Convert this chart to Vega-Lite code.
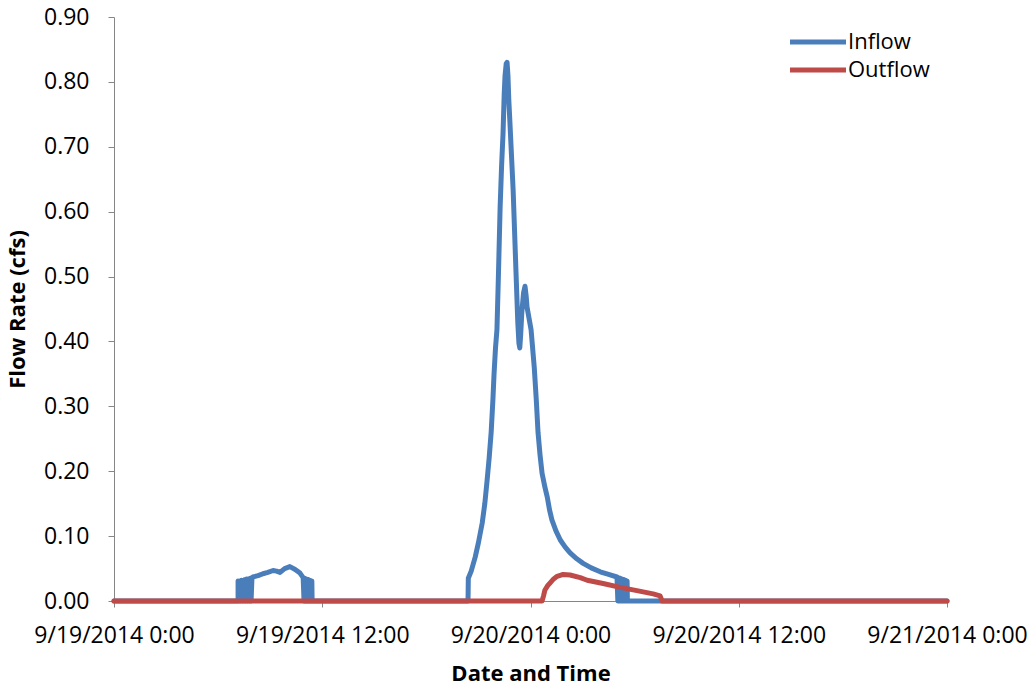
{
  "$schema": "https://vega.github.io/schema/vega-lite/v6.json",
  "width": 833,
  "height": 584,
  "autosize": {"type": "none"},
  "padding": {"left": 114, "top": 17, "right": 87, "bottom": 86},
  "background": "white",
  "config": {
    "view": {"stroke": null},
    "font": "Open Sans",
    "axis": {
      "grid": false,
      "domainColor": "#868686",
      "tickColor": "#868686",
      "labelColor": "#000000",
      "titleColor": "#000000",
      "labelFont": "Open Sans",
      "titleFont": "Open Sans",
      "labelFontSize": 23,
      "titleFontSize": 22,
      "titleFontWeight": "bold"
    }
  },
  "data": {
    "values": [
      {"time": "2014-09-19T00:00", "series": "Inflow", "flow": 0},
      {"time": "2014-09-19T07:09", "series": "Inflow", "flow": 0},
      {"time": "2014-09-19T07:09", "series": "Inflow", "flow": 0.031},
      {"time": "2014-09-19T07:12", "series": "Inflow", "flow": 0},
      {"time": "2014-09-19T07:15", "series": "Inflow", "flow": 0.031},
      {"time": "2014-09-19T07:18", "series": "Inflow", "flow": 0},
      {"time": "2014-09-19T07:21", "series": "Inflow", "flow": 0.032},
      {"time": "2014-09-19T07:24", "series": "Inflow", "flow": 0},
      {"time": "2014-09-19T07:27", "series": "Inflow", "flow": 0.032},
      {"time": "2014-09-19T07:30", "series": "Inflow", "flow": 0},
      {"time": "2014-09-19T07:33", "series": "Inflow", "flow": 0.033},
      {"time": "2014-09-19T07:36", "series": "Inflow", "flow": 0},
      {"time": "2014-09-19T07:39", "series": "Inflow", "flow": 0.034},
      {"time": "2014-09-19T07:42", "series": "Inflow", "flow": 0},
      {"time": "2014-09-19T07:45", "series": "Inflow", "flow": 0.034},
      {"time": "2014-09-19T07:48", "series": "Inflow", "flow": 0},
      {"time": "2014-09-19T07:51", "series": "Inflow", "flow": 0.035},
      {"time": "2014-09-19T07:54", "series": "Inflow", "flow": 0},
      {"time": "2014-09-19T07:57", "series": "Inflow", "flow": 0.036},
      {"time": "2014-09-19T08:00", "series": "Inflow", "flow": 0.037},
      {"time": "2014-09-19T08:18", "series": "Inflow", "flow": 0.039},
      {"time": "2014-09-19T08:35", "series": "Inflow", "flow": 0.042},
      {"time": "2014-09-19T08:52", "series": "Inflow", "flow": 0.044},
      {"time": "2014-09-19T09:10", "series": "Inflow", "flow": 0.047},
      {"time": "2014-09-19T09:22", "series": "Inflow", "flow": 0.046},
      {"time": "2014-09-19T09:34", "series": "Inflow", "flow": 0.044},
      {"time": "2014-09-19T09:50", "series": "Inflow", "flow": 0.05},
      {"time": "2014-09-19T10:08", "series": "Inflow", "flow": 0.053},
      {"time": "2014-09-19T10:25", "series": "Inflow", "flow": 0.049},
      {"time": "2014-09-19T10:43", "series": "Inflow", "flow": 0.043},
      {"time": "2014-09-19T10:54", "series": "Inflow", "flow": 0.036},
      {"time": "2014-09-19T10:57", "series": "Inflow", "flow": 0},
      {"time": "2014-09-19T11:00", "series": "Inflow", "flow": 0.035},
      {"time": "2014-09-19T11:03", "series": "Inflow", "flow": 0},
      {"time": "2014-09-19T11:06", "series": "Inflow", "flow": 0.034},
      {"time": "2014-09-19T11:09", "series": "Inflow", "flow": 0},
      {"time": "2014-09-19T11:12", "series": "Inflow", "flow": 0.033},
      {"time": "2014-09-19T11:15", "series": "Inflow", "flow": 0},
      {"time": "2014-09-19T11:18", "series": "Inflow", "flow": 0.032},
      {"time": "2014-09-19T11:21", "series": "Inflow", "flow": 0},
      {"time": "2014-09-19T11:24", "series": "Inflow", "flow": 0.031},
      {"time": "2014-09-19T11:25", "series": "Inflow", "flow": 0},
      {"time": "2014-09-19T20:24", "series": "Inflow", "flow": 0},
      {"time": "2014-09-19T20:25", "series": "Inflow", "flow": 0.035},
      {"time": "2014-09-19T20:35", "series": "Inflow", "flow": 0.046},
      {"time": "2014-09-19T20:49", "series": "Inflow", "flow": 0.068},
      {"time": "2014-09-19T21:00", "series": "Inflow", "flow": 0.09},
      {"time": "2014-09-19T21:13", "series": "Inflow", "flow": 0.12},
      {"time": "2014-09-19T21:22", "series": "Inflow", "flow": 0.15},
      {"time": "2014-09-19T21:30", "series": "Inflow", "flow": 0.186},
      {"time": "2014-09-19T21:37", "series": "Inflow", "flow": 0.22},
      {"time": "2014-09-19T21:44", "series": "Inflow", "flow": 0.26},
      {"time": "2014-09-19T21:50", "series": "Inflow", "flow": 0.31},
      {"time": "2014-09-19T21:54", "series": "Inflow", "flow": 0.35},
      {"time": "2014-09-19T21:59", "series": "Inflow", "flow": 0.39},
      {"time": "2014-09-19T22:04", "series": "Inflow", "flow": 0.418},
      {"time": "2014-09-19T22:09", "series": "Inflow", "flow": 0.5},
      {"time": "2014-09-19T22:15", "series": "Inflow", "flow": 0.607},
      {"time": "2014-09-19T22:20", "series": "Inflow", "flow": 0.67},
      {"time": "2014-09-19T22:25", "series": "Inflow", "flow": 0.72},
      {"time": "2014-09-19T22:29", "series": "Inflow", "flow": 0.78},
      {"time": "2014-09-19T22:32", "series": "Inflow", "flow": 0.81},
      {"time": "2014-09-19T22:36", "series": "Inflow", "flow": 0.828},
      {"time": "2014-09-19T22:39", "series": "Inflow", "flow": 0.83},
      {"time": "2014-09-19T22:42", "series": "Inflow", "flow": 0.81},
      {"time": "2014-09-19T22:45", "series": "Inflow", "flow": 0.772},
      {"time": "2014-09-19T22:49", "series": "Inflow", "flow": 0.736},
      {"time": "2014-09-19T23:00", "series": "Inflow", "flow": 0.633},
      {"time": "2014-09-19T23:10", "series": "Inflow", "flow": 0.505},
      {"time": "2014-09-19T23:16", "series": "Inflow", "flow": 0.43},
      {"time": "2014-09-19T23:20", "series": "Inflow", "flow": 0.397},
      {"time": "2014-09-19T23:23", "series": "Inflow", "flow": 0.39},
      {"time": "2014-09-19T23:26", "series": "Inflow", "flow": 0.41},
      {"time": "2014-09-19T23:30", "series": "Inflow", "flow": 0.445},
      {"time": "2014-09-19T23:36", "series": "Inflow", "flow": 0.475},
      {"time": "2014-09-19T23:41", "series": "Inflow", "flow": 0.485},
      {"time": "2014-09-19T23:45", "series": "Inflow", "flow": 0.47},
      {"time": "2014-09-19T23:48", "series": "Inflow", "flow": 0.453},
      {"time": "2014-09-20T00:02", "series": "Inflow", "flow": 0.418},
      {"time": "2014-09-20T00:13", "series": "Inflow", "flow": 0.36},
      {"time": "2014-09-20T00:20", "series": "Inflow", "flow": 0.31},
      {"time": "2014-09-20T00:26", "series": "Inflow", "flow": 0.26},
      {"time": "2014-09-20T00:33", "series": "Inflow", "flow": 0.225},
      {"time": "2014-09-20T00:40", "series": "Inflow", "flow": 0.197},
      {"time": "2014-09-20T00:50", "series": "Inflow", "flow": 0.175},
      {"time": "2014-09-20T00:58", "series": "Inflow", "flow": 0.16},
      {"time": "2014-09-20T01:06", "series": "Inflow", "flow": 0.14},
      {"time": "2014-09-20T01:14", "series": "Inflow", "flow": 0.125},
      {"time": "2014-09-20T01:28", "series": "Inflow", "flow": 0.108},
      {"time": "2014-09-20T01:43", "series": "Inflow", "flow": 0.094},
      {"time": "2014-09-20T02:00", "series": "Inflow", "flow": 0.083},
      {"time": "2014-09-20T02:17", "series": "Inflow", "flow": 0.074},
      {"time": "2014-09-20T02:40", "series": "Inflow", "flow": 0.065},
      {"time": "2014-09-20T03:02", "series": "Inflow", "flow": 0.058},
      {"time": "2014-09-20T03:30", "series": "Inflow", "flow": 0.051},
      {"time": "2014-09-20T04:01", "series": "Inflow", "flow": 0.045},
      {"time": "2014-09-20T04:30", "series": "Inflow", "flow": 0.041},
      {"time": "2014-09-20T04:59", "series": "Inflow", "flow": 0.037},
      {"time": "2014-09-20T05:02", "series": "Inflow", "flow": 0},
      {"time": "2014-09-20T05:05", "series": "Inflow", "flow": 0.036},
      {"time": "2014-09-20T05:08", "series": "Inflow", "flow": 0},
      {"time": "2014-09-20T05:11", "series": "Inflow", "flow": 0.035},
      {"time": "2014-09-20T05:14", "series": "Inflow", "flow": 0},
      {"time": "2014-09-20T05:17", "series": "Inflow", "flow": 0.034},
      {"time": "2014-09-20T05:20", "series": "Inflow", "flow": 0},
      {"time": "2014-09-20T05:23", "series": "Inflow", "flow": 0.033},
      {"time": "2014-09-20T05:26", "series": "Inflow", "flow": 0},
      {"time": "2014-09-20T05:29", "series": "Inflow", "flow": 0.032},
      {"time": "2014-09-20T05:32", "series": "Inflow", "flow": 0},
      {"time": "2014-09-20T05:34", "series": "Inflow", "flow": 0.031},
      {"time": "2014-09-20T05:35", "series": "Inflow", "flow": 0},
      {"time": "2014-09-21T00:00", "series": "Inflow", "flow": 0},
      {"time": "2014-09-19T00:00", "series": "Outflow", "flow": 0},
      {"time": "2014-09-20T00:40", "series": "Outflow", "flow": 0},
      {"time": "2014-09-20T00:45", "series": "Outflow", "flow": 0.008},
      {"time": "2014-09-20T00:50", "series": "Outflow", "flow": 0.017},
      {"time": "2014-09-20T01:00", "series": "Outflow", "flow": 0.024},
      {"time": "2014-09-20T01:08", "series": "Outflow", "flow": 0.028},
      {"time": "2014-09-20T01:20", "series": "Outflow", "flow": 0.034},
      {"time": "2014-09-20T01:32", "series": "Outflow", "flow": 0.038},
      {"time": "2014-09-20T01:53", "series": "Outflow", "flow": 0.041},
      {"time": "2014-09-20T02:17", "series": "Outflow", "flow": 0.04},
      {"time": "2014-09-20T02:52", "series": "Outflow", "flow": 0.036},
      {"time": "2014-09-20T03:16", "series": "Outflow", "flow": 0.032},
      {"time": "2014-09-20T04:11", "series": "Outflow", "flow": 0.027},
      {"time": "2014-09-20T05:10", "series": "Outflow", "flow": 0.021},
      {"time": "2014-09-20T06:08", "series": "Outflow", "flow": 0.016},
      {"time": "2014-09-20T07:04", "series": "Outflow", "flow": 0.011},
      {"time": "2014-09-20T07:28", "series": "Outflow", "flow": 0.008},
      {"time": "2014-09-20T07:35", "series": "Outflow", "flow": 0},
      {"time": "2014-09-21T00:00", "series": "Outflow", "flow": 0}
    ]
  },
  "mark": {"type": "line", "strokeWidth": 5, "strokeCap": "round", "strokeJoin": "round"},
  "encoding": {
    "x": {
      "field": "time",
      "type": "temporal",
      "title": "Date and Time",
      "scale": {"domain": [{"year": 2014, "month": 9, "date": 19, "hours": 0}, {"year": 2014, "month": 9, "date": 21, "hours": 0}]},
      "axis": {
        "values": [
          {"year": 2014, "month": 9, "date": 19, "hours": 0},
          {"year": 2014, "month": 9, "date": 19, "hours": 12},
          {"year": 2014, "month": 9, "date": 20, "hours": 0},
          {"year": 2014, "month": 9, "date": 20, "hours": 12},
          {"year": 2014, "month": 9, "date": 21, "hours": 0}
        ],
        "format": "%-m/%-d/%Y %-H:%M",
        "labelFlush": false,
        "labelOverlap": false,
        "labelBound": false,
        "tickSize": 6,
        "labelPadding": 17,
        "titlePadding": 16
      }
    },
    "y": {
      "field": "flow",
      "type": "quantitative",
      "title": "Flow Rate (cfs)",
      "scale": {"domain": [0, 0.9], "nice": false, "zero": true},
      "axis": {
        "values": [0, 0.1, 0.2, 0.3, 0.4, 0.5, 0.6, 0.7, 0.8, 0.9],
        "format": ".2f",
        "tickSize": 6,
        "labelPadding": 19,
        "titlePadding": 14,
        "titleFontSize": 22
      }
    },
    "color": {
      "field": "series",
      "type": "nominal",
      "scale": {"domain": ["Inflow", "Outflow"], "range": ["#4A7EBB", "#BE4B48"]},
      "legend": {
        "title": null,
        "orient": "none",
        "legendX": 693,
        "legendY": 14,
        "symbolType": "M-4,0H4",
        "symbolSize": 196,
        "symbolStrokeWidth": 5,
        "labelFontSize": 22,
        "labelFont": "Open Sans",
        "labelColor": "#000000",
        "labelOffset": 19,
        "rowPadding": 6
      }
    }
  }
}
